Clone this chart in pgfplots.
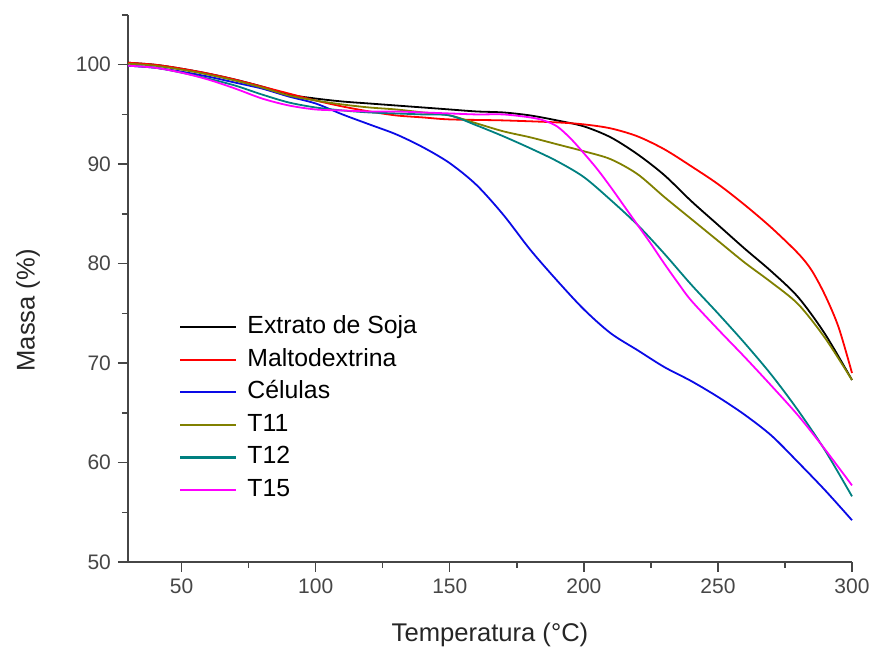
\documentclass[border=0pt]{standalone}
\usepackage{fontspec}
\setmainfont{Liberation Sans}
\usepackage{pgfplots}
\pgfplotsset{compat=1.18}
\usepackage{pgfplotstable}

\definecolor{cBlack}{RGB}{0,0,0}
\definecolor{cRed}{RGB}{255,0,0}
\definecolor{cBlue}{RGB}{10,10,230}
\definecolor{cOlive}{RGB}{128,128,0}
\definecolor{cTeal}{RGB}{0,128,128}
\definecolor{cPink}{RGB}{255,0,255}
\definecolor{cAxis}{RGB}{70,70,70}

\pgfplotstableread{
T M
30 100.2
40 100.0
50 99.6
60 99.1
70 98.5
80 97.8
90 97.0
100 96.6
110 96.3
120 96.1
130 95.9
140 95.7
150 95.5
160 95.3
170 95.2
180 94.9
190 94.4
200 93.8
210 92.7
220 91.0
230 88.9
240 86.3
250 83.9
260 81.5
270 79.2
280 76.6
290 72.9
300 68.3
}\soja

\pgfplotstableread{
T M
30 100.2
40 100.0
50 99.6
60 99.1
70 98.5
80 97.8
90 97.1
100 96.4
110 95.8
120 95.3
130 94.9
140 94.7
150 94.5
170 94.4
190 94.2
200 94.0
210 93.6
220 92.8
230 91.5
240 89.8
250 88.0
260 85.9
270 83.6
280 81.0
285 79.3
290 76.8
295 73.6
300 69.0
}\malto

\pgfplotstableread{
T M
30 99.9
40 99.7
50 99.3
60 98.8
70 98.2
80 97.6
90 96.8
100 96.1
110 95.0
120 94.0
130 93.0
140 91.7
150 90.1
160 87.9
170 84.9
180 81.4
190 78.3
200 75.4
210 73.0
220 71.3
230 69.6
240 68.2
250 66.6
260 64.8
270 62.7
280 60.0
290 57.2
300 54.2
}\celulas

\pgfplotstableread{
T M
30 100.1
40 99.9
50 99.5
60 99.0
70 98.4
80 97.7
90 96.9
100 96.4
110 96.0
120 95.7
130 95.5
140 95.2
150 94.9
160 94.1
170 93.3
180 92.7
190 92.0
200 91.3
210 90.5
220 89.0
230 86.7
240 84.5
250 82.3
260 80.1
270 78.1
280 75.9
290 72.5
300 68.3
}\tonze

\pgfplotstableread{
T M
30 99.9
40 99.7
50 99.2
60 98.6
70 97.9
80 97.0
90 96.2
100 95.7
110 95.4
120 95.2
130 95.1
140 95.0
150 94.9
160 93.9
170 92.8
180 91.6
190 90.3
200 88.7
210 86.4
220 83.9
230 81.0
240 77.9
250 75.0
260 72.0
270 68.8
280 65.2
290 61.2
300 56.6
}\tdoze

\pgfplotstableread{
T M
30 99.9
40 99.7
50 99.2
60 98.5
70 97.6
80 96.6
90 95.9
100 95.5
110 95.4
120 95.3
130 95.3
140 95.2
150 95.1
160 95.0
170 95.0
180 94.7
185 94.4
190 93.8
195 92.6
200 91.1
205 89.5
210 87.7
215 85.8
220 83.9
225 82.0
230 80.0
235 78.1
240 76.3
250 73.4
260 70.6
270 67.7
280 64.7
290 61.3
300 57.7
}\tquinze

\begin{document}
\begin{tikzpicture}
\begin{axis}[
  scale only axis,
  width=362pt, height=273.5pt,
  xmin=30, xmax=300, ymin=50, ymax=105,
  axis lines=left,
  axis line style={-, cAxis, line width=0.7pt},
  tick style={cAxis, line width=0.7pt},
  tick align=outside,
  major tick length=5pt,
  minor tick length=3pt,
  xtick={50,100,...,300},
  minor xtick={75,125,...,275},
  ytick={50,60,...,100},
  minor ytick={55,65,...,105},
  /pgf/number format/assume math mode=true,
  tick label style={font=\fontsize{10.5}{12}\selectfont, text=cAxis},
  xlabel={Temperatura (°C)},
  ylabel={Massa (\%)},
  label style={font=\fontsize{12.8}{15}\selectfont, text=black!85},
  xlabel style={at={(axis description cs:0.5,-0.1335)}, anchor=center},
  ylabel style={at={(axis description cs:-0.138,0.46)}, anchor=center},
  clip=false,
  legend cell align=left,
  legend style={draw=none, fill=none, at={(axis description cs:0.062,0.464)}, anchor=north west,
    font=\fontsize{12.4}{14}\selectfont, row sep=1.8pt,
    nodes={text height=9pt, text depth=2.5pt, inner sep=1.5pt},
    /tikz/every odd column/.append style={column sep=3.5pt}},
  legend image code/.code={\draw[#1, line width=1.1pt] (0pt,0pt) -- (28pt,0pt);},
  every axis plot/.append style={line width=0.9pt, smooth, tension=0.5},
]
\addplot[cBlack] table {\soja};
\addlegendentry{Extrato de Soja}
\addplot[cRed] table {\malto};
\addlegendentry{Maltodextrina}
\addplot[cBlue] table {\celulas};
\addlegendentry{Células}
\addplot[cOlive] table {\tonze};
\addlegendentry{T11}
\addplot[cTeal] table {\tdoze};
\addlegendentry{T12}
\addplot[cPink] table {\tquinze};
\addlegendentry{T15}
\end{axis}
\pgfresetboundingbox
\path[use as bounding box] ([shift={(-64pt,-44pt)}]current axis.south west) rectangle ([shift={(9.5pt,7.5pt)}]current axis.north east);
\end{tikzpicture}
\end{document}
